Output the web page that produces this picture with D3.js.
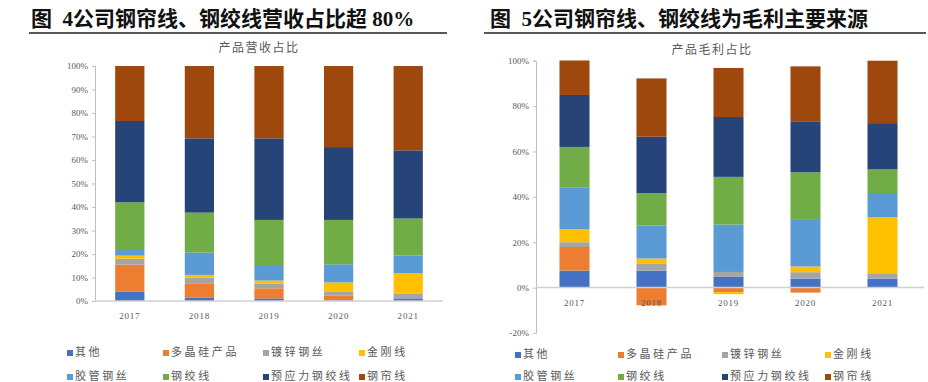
<!DOCTYPE html>
<html><head><meta charset="utf-8">
<script src="https://cdn.jsdelivr.net/npm/d3@7"></script>
<style>
html,body{margin:0;padding:0;background:#fff;}
svg{display:block;}
</style></head>
<body>
<svg id="chart" width="928" height="382"></svg>
<script>
const years = ["2017","2018","2019","2020","2021"];
const seriesNames = ["其他","多晶硅产品","镀锌钢丝","金刚线","胶管钢丝","钢绞线","预应力钢绞线","钢帘线"];
const seriesColors = ["#4472C4","#ED7D31","#A5A5A5","#FFC000","#5B9BD5","#70AD47","#264478","#9E480E"];

// 产品营收占比 (%), one array per series, across years
const revOther      = [3.9, 1.5, 1.1, 0.3, 1.1];
const revPolySi     = [11.6, 5.8, 4.3, 2.1, 0.0];
const revGalv       = [2.5, 2.6, 1.9, 1.7, 1.9];
const revDiamond    = [1.3, 1.2, 1.4, 3.8, 8.8];
const revHose       = [2.4, 9.5, 6.2, 7.7, 7.5];
const revStrand     = [20.3, 17.0, 19.6, 18.9, 15.8];
const revPCStrand   = [34.6, 31.6, 34.7, 31.0, 29.0];
const revTireCord   = [23.4, 30.8, 30.8, 34.5, 35.9];

// 产品毛利占比 (%)
const gpOther       = [7.5, 7.5, 4.7, 4.0, 4.0];
const gpPolySi      = [10.4, -7.8, -2.0, -2.2, 0.0];
const gpGalv        = [2.1, 3.2, 2.2, 2.8, 2.0];
const gpDiamond     = [5.8, 2.1, -0.9, 2.5, 25.1];
const gpHose        = [18.4, 14.5, 20.9, 20.9, 10.6];
const gpStrand      = [17.8, 14.3, 21.0, 20.6, 10.4];
const gpPCStrand    = [22.9, 24.9, 26.4, 22.5, 20.4];
const gpTireCord    = [15.2, 25.7, 21.6, 24.2, 27.5];

const leftTicks  = [0,10,20,30,40,50,60,70,80,90,100];
const rightTicks = [-20,0,20,40,60,80,100];

const revSeries = [revOther, revPolySi, revGalv, revDiamond, revHose, revStrand, revPCStrand, revTireCord];
const gpSeries  = [gpOther, gpPolySi, gpGalv, gpDiamond, gpHose, gpStrand, gpPCStrand, gpTireCord];

function toRows(seriesArr){
  return years.map((y,i)=>{
    const r = {year:y};
    seriesNames.forEach((s,j)=>{ r[s] = seriesArr[j][i]/100; });
    return r;
  });
}

const svg = d3.select("#chart");
const serif = "'Liberation Serif','Times New Roman',serif";
const cjk = "'Liberation Serif','Noto Sans CJK SC',serif";
const grey = "#595959";
const axisCol = "#BFBFBF";

function drawPanel(cfg){
  const g = svg.append("g");
  // title
  g.append("text").attr("x", cfg.titleX).attr("y", 26)
    .attr("font-family", cjk).attr("font-weight", 700).attr("font-size", 21)
    .attr("fill", "#111").attr("xml:space","preserve").text(cfg.title);
  g.append("line").attr("x1", cfg.ruleX1).attr("x2", cfg.ruleX2)
    .attr("y1", 33).attr("y2", 33).attr("stroke", "#222").attr("stroke-width", 1.5);
  // subtitle
  g.append("text").attr("x", cfg.subX).attr("y", cfg.subY)
    .attr("text-anchor","middle").attr("font-family","'Noto Sans CJK SC',serif")
    .attr("font-size", 12).attr("letter-spacing", 1.5).attr("fill", grey).text(cfg.subtitle);

  const x = d3.scaleBand().domain(years).range(cfg.xRange)
    .paddingInner(cfg.padIn).paddingOuter(cfg.padOut);
  const y = d3.scaleLinear().domain(cfg.yDomain).range(cfg.yRange);

  const rows = toRows(cfg.data);
  const stack = d3.stack().keys(seriesNames).offset(d3.stackOffsetDiverging);
  const layers = stack(rows);

  // y axis
  const yAxis = d3.axisLeft(y).tickValues(cfg.ticks.map(t=>t/100))
    .tickFormat(d => cfg.fmt(Math.round(d*100))).tickSize(3).tickPadding(4);
  const ya = g.append("g").attr("transform", `translate(${cfg.xRange[0]},0)`).call(yAxis);
  ya.select(".domain").attr("stroke", axisCol);
  ya.selectAll(".tick line").attr("stroke", axisCol);
  ya.selectAll(".tick text").attr("font-family", serif).attr("font-size", 9).attr("fill", grey);

  // bars
  layers.forEach((layer, j) => {
    g.append("g").attr("fill", seriesColors[j])
      .selectAll("rect").data(layer).join("rect")
      .attr("x", d => x(d.data.year))
      .attr("width", x.bandwidth())
      .attr("y", d => y(Math.max(d[0], d[1])))
      .attr("height", d => Math.abs(y(d[0]) - y(d[1])));
  });

  // zero baseline
  g.append("line").attr("x1", cfg.xRange[0]).attr("x2", cfg.baseX2)
    .attr("y1", y(0)).attr("y2", y(0)).attr("stroke", "#D0D0D0").attr("stroke-width", 1.5);

  // x labels
  g.append("g").selectAll("text").data(years).join("text")
    .attr("x", d => x(d) + x.bandwidth()/2).attr("y", cfg.xLabelY)
    .attr("text-anchor","middle").attr("font-family", serif).attr("font-size", 9)
    .attr("letter-spacing", 0.8).attr("fill", grey).text(d => d);

  // legend
  const leg = g.append("g");
  seriesNames.forEach((s, j) => {
    const cx = cfg.legCols[j % 4];
    const cy = cfg.legRows[Math.floor(j / 4)];
    leg.append("rect").attr("x", cx).attr("y", cy - 6).attr("width", 6).attr("height", 6)
      .attr("fill", seriesColors[j]);
    leg.append("text").attr("x", cx + 8).attr("y", cy)
      .attr("font-family", "'Noto Sans CJK SC',serif").attr("font-size", 11)
      .attr("letter-spacing", 2.6).attr("fill", grey).text(s);
  });
}

drawPanel({
  title: "图  4公司钢帘线、钢绞线营收占比超 80%",
  titleX: 31, ruleX1: 29, ruleX2: 447,
  subtitle: "产品营收占比", subX: 259, subY: 52,
  data: revSeries,
  xRange: [95, 443], padIn: 0.58, padOut: 0.29,
  yDomain: [0, 1], yRange: [301, 66],
  ticks: leftTicks, fmt: v => v + "%",
  baseX2: 443, xLabelY: 319,
  legCols: [67, 163, 263, 359], legRows: [356, 380]
});

drawPanel({
  title: "图  5公司钢帘线、钢绞线为毛利主要来源",
  titleX: 490, ruleX1: 484, ruleX2: 926,
  subtitle: "产品毛利占比", subX: 712, subY: 54,
  data: gpSeries,
  xRange: [536, 921], padIn: 0.61, padOut: 0.305,
  yDomain: [-0.2, 1], yRange: [333, 60.7],
  ticks: rightTicks, fmt: v => v + "%",
  baseX2: 924, xLabelY: 306,
  legCols: [515, 618, 722, 825], legRows: [358, 380]
});
</script>
</body></html>
